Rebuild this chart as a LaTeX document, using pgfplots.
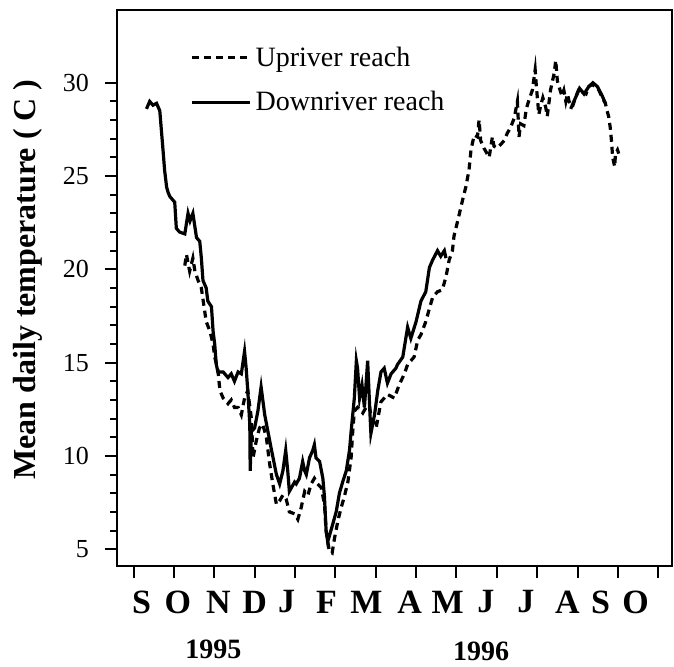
\documentclass[border=0pt]{standalone}
\usepackage{fontspec}
\setmainfont{Liberation Serif}
\usepackage{pgfplots}
\pgfplotsset{compat=1.18}
\begin{document}
\begin{tikzpicture}
\path[use as bounding box] (-58.5pt,-50pt) rectangle (278.5pt,283pt);
\begin{axis}[
  at={(0pt,0pt)}, anchor=south west,
  width=277.5pt, height=278pt, scale only axis,
  xmin=-0.41, xmax=13.34, ymin=4.1, ymax=33.9,
  clip=false,
  axis line style={line width=1pt},
  every tick/.append style={line width=1pt, black},
  tick align=outside, major tick length=6pt, minor tick length=3.5pt,
  xtick pos=bottom, ytick pos=left,
  xtick={0,1,2,3,4,5,6,7,8,9,10,11,12,13}, xticklabels={},
  extra x ticks={0.20,1.10,2.10,3.00,3.79,4.78,5.77,6.84,7.78,8.73,9.72,10.75,11.57,12.44},
  extra x tick labels={S,O,N,D,J,F,M,A,M,J,J,A,S,O},
  extra x tick style={major tick length=0pt, xticklabel style={font=\bfseries\fontsize{17}{17}\selectfont, anchor=center, yshift=-18pt}},
  ytick={5,10,15,20,25,30}, minor y tick num=4,
  yticklabel style={font=\fontsize{13}{13}\selectfont, xshift=-4.5pt},
  /pgf/number format/assume math mode=true,
  ylabel={Mean daily temperature ( C )},
  ylabel style={font=\bfseries\fontsize{16}{16}\selectfont, at={(axis description cs:-0.161,0.515)}, anchor=center, rotate=0},
  legend style={draw=none, fill=none, at={(axis description cs:0.1315,0.942)}, anchor=north west, font=\fontsize{14}{14}\selectfont, inner sep=0pt, row sep=7pt},
  legend cell align=left,
  legend image code/.code={\draw[#1] (0pt,0pt) -- (29pt,0pt);},
]
\addplot[black, line width=1.6pt, dash pattern=on 3.5pt off 2.5pt] coordinates {
(1.27,20.2)(1.31,20.8)(1.39,19.9)(1.47,20.6)(1.52,19.9)(1.60,19.4)(1.68,19.0)(1.76,17.8)(1.80,17.2)(1.89,16.7)
(1.97,16.0)(2.01,15.3)(2.09,14.6)(2.14,13.5)(2.22,13.1)(2.34,12.8)(2.42,13.0)(2.50,12.6)(2.59,12.6)(2.67,12.2)
(2.75,13.1)(2.83,13.5)(2.92,12.0)(2.96,9.9)(3.04,10.8)(3.12,11.5)(3.20,11.7)(3.29,11.0)(3.37,9.6)(3.45,8.5)
(3.54,7.4)(3.62,7.6)(3.70,7.9)(3.78,7.7)(3.86,7.0)(3.99,6.9)(4.07,6.6)(4.15,7.2)(4.24,8.1)(4.32,7.9)
(4.40,8.5)(4.48,8.8)(4.56,8.5)(4.65,8.3)(4.73,7.4)(4.77,6.0)(4.85,4.9)(4.92,4.8)(4.98,5.6)(5.06,6.5)
(5.14,7.2)(5.22,7.8)(5.31,8.6)(5.39,9.9)(5.43,11.3)(5.47,12.4)(5.55,12.6)(5.64,12.4)(5.68,12.3)(5.76,12.6)
(5.84,12.7)(5.88,12.2)(6.01,11.5)(6.13,12.9)(6.29,13.3)(6.46,13.1)(6.58,13.8)(6.71,14.4)(6.79,14.9)(6.87,15.1)
(6.95,15.3)(7.04,16.2)(7.12,16.5)(7.24,17.2)(7.33,17.9)(7.41,18.5)(7.53,18.8)(7.65,18.9)(7.74,19.6)(7.82,20.5)
(7.90,21.0)(7.94,21.8)(8.02,22.5)(8.15,23.7)(8.23,24.4)(8.31,25.3)(8.36,26.4)(8.44,27.2)(8.52,27.1)(8.56,28.0)
(8.60,26.9)(8.68,26.5)(8.81,26.0)(8.89,27.1)(8.93,26.6)(9.01,26.5)(9.10,26.7)(9.18,26.9)(9.26,27.3)(9.34,27.6)
(9.43,28.1)(9.51,29.0)(9.55,27.1)(9.59,27.8)(9.67,27.7)(9.73,28.6)(9.80,29.1)(9.88,29.6)(9.95,30.7)(9.98,29.8)
(10.04,28.3)(10.09,28.8)(10.14,29.2)(10.21,28.7)(10.25,28.2)(10.33,29.6)(10.42,30.5)(10.46,31.2)(10.50,30.1)(10.54,29.8)
(10.61,29.3)(10.66,29.6)(10.71,29.0)(10.75,29.4)(10.79,29.0)(10.87,28.7)(10.95,29.2)(11.04,29.7)(11.12,29.5)(11.21,29.4)
(11.28,29.8)(11.36,29.9)(11.45,29.8)(11.53,29.6)(11.61,29.2)(11.69,28.9)(11.73,28.5)(11.77,28.2)(11.81,27.6)(11.84,26.9)
(11.87,26.0)(11.92,25.5)(11.94,26.2)(11.99,26.4)(12.02,26.2)
};
\addlegendentry{Upriver reach}
\addplot[black, line width=1.6pt] coordinates {
(0.32,28.6)(0.40,29.0)(0.48,28.8)(0.57,28.9)(0.65,28.5)(0.73,26.4)(0.77,25.3)(0.82,24.4)(0.86,24.1)(0.90,23.9)
(1.02,23.6)(1.06,22.2)(1.14,22.0)(1.27,21.9)(1.35,23.0)(1.40,22.6)(1.47,23.0)(1.56,21.7)(1.64,21.5)(1.68,20.6)
(1.72,19.4)(1.80,19.0)(1.84,18.3)(1.93,18.0)(1.97,16.7)(2.01,16.0)(2.05,14.9)(2.09,14.5)(2.22,14.5)(2.34,14.2)
(2.42,14.4)(2.50,14.0)(2.59,14.5)(2.67,14.4)(2.75,15.6)(2.79,14.7)(2.83,13.5)(2.88,11.7)(2.89,9.2)(2.92,11.3)
(3.00,11.5)(3.08,12.4)(3.16,13.7)(3.25,12.2)(3.33,11.3)(3.41,10.4)(3.54,9.0)(3.62,8.5)(3.70,9.2)(3.77,10.3)
(3.82,9.2)(3.86,8.1)(3.99,8.6)(4.03,8.5)(4.11,8.8)(4.19,9.7)(4.24,9.2)(4.28,9.0)(4.36,9.9)(4.44,10.3)
(4.48,10.6)(4.52,9.9)(4.61,9.7)(4.69,8.8)(4.73,7.8)(4.77,6.0)(4.81,5.4)(4.89,6.0)(5.02,7.0)(5.10,8.0)
(5.18,8.6)(5.27,9.2)(5.35,10.3)(5.39,11.3)(5.43,12.2)(5.47,13.1)(5.52,15.1)(5.55,14.7)(5.60,13.1)(5.66,13.8)
(5.72,12.6)(5.80,15.1)(5.84,13.1)(5.88,11.2)(5.97,12.2)(6.05,13.5)(6.13,14.5)(6.21,14.7)(6.29,13.9)(6.38,14.4)
(6.50,14.7)(6.54,14.9)(6.67,15.3)(6.79,16.9)(6.87,16.3)(7.00,17.2)(7.12,18.3)(7.24,18.8)(7.33,20.1)(7.41,20.5)
(7.53,21.0)(7.61,20.7)(7.70,21.0)(7.74,20.6)
};
\addlegendentry{Downriver reach}
\addplot[black, line width=1.6pt, forget plot] coordinates {
(10.83,28.6)(10.95,29.2)(11.05,29.7)(11.16,29.4)(11.28,29.8)(11.38,30.0)(11.49,29.8)(11.61,29.3)(11.69,28.9)
};
\node[font=\bfseries\fontsize{14}{14}\selectfont, inner sep=0pt] at (axis cs:1.98,-0.35) {1995};
\node[font=\bfseries\fontsize{14}{14}\selectfont, inner sep=0pt] at (axis cs:8.61,-0.50) {1996};
\end{axis}
\end{tikzpicture}
\end{document}
